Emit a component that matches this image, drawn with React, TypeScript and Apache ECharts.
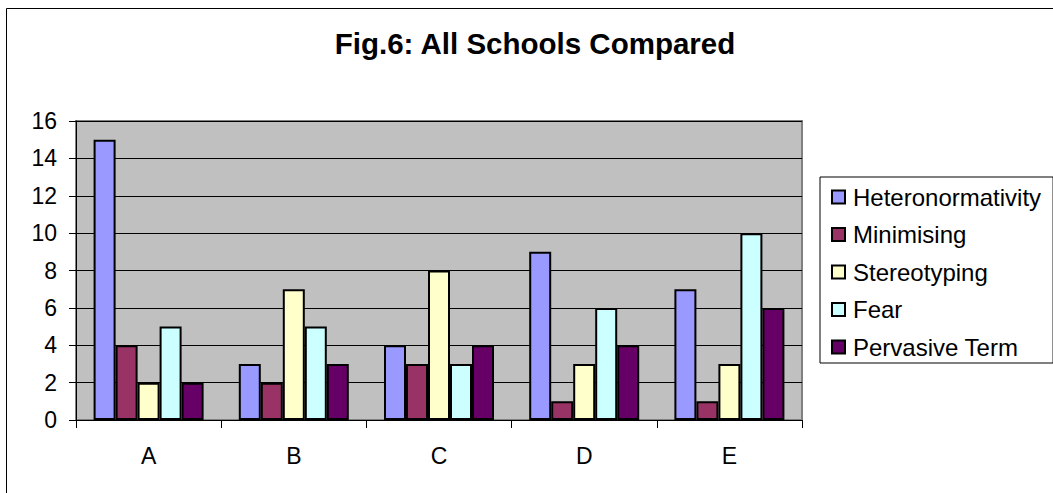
import React, { useEffect, useRef } from "react";
import * as echarts from "echarts";

const categories = ["A", "B", "C", "D", "E"];
const seriesNames = ["Heteronormativity", "Minimising", "Stereotyping", "Fear", "Pervasive Term"];
const heteronormativity = [15, 3, 4, 9, 7];
const minimising = [4, 2, 3, 1, 1];
const stereotyping = [2, 7, 8, 3, 3];
const fear = [5, 5, 3, 6, 10];
const pervasiveTerm = [2, 3, 4, 4, 6];
const seriesColors = ["#9999FF", "#993366", "#FFFFCC", "#CCFFFF", "#660066"];
const yTicks = [0, 2, 4, 6, 8, 10, 12, 14, 16];

const FONT = "'Liberation Sans', Arial, sans-serif";

export default function App() {
  const ref = useRef<HTMLDivElement>(null);
  useEffect(() => {
    if (!ref.current) return;
    const chart = echarts.init(ref.current, undefined, { renderer: "svg" });
    const values = [heteronormativity, minimising, stereotyping, fear, pervasiveTerm];
    chart.setOption({
      animation: false,
      backgroundColor: "#FFFFFF",
      textStyle: { fontFamily: FONT, color: "#000" },
      graphic: [
        {
          type: "rect",
          shape: { x: 6.5, y: 8.5, width: 2000, height: 2000 },
          style: { fill: "none", stroke: "#000", lineWidth: 1 },
          silent: true,
        },
        {
          type: "text",
          x: 535,
          y: 43,
          style: {
            text: "Fig.6: All Schools Compared",
            font: `bold 29.5px ${FONT}`,
            fill: "#000",
            textAlign: "center",
            textVerticalAlign: "middle",
          },
        },
      ],
      grid: {
        left: 76,
        top: 121,
        right: 251,
        bottom: 73,
        show: true,
        backgroundColor: "#C0C0C0",
        borderColor: "#808080",
        borderWidth: 2,
      },
      legend: {
        orient: "vertical",
        left: 820,
        top: 177,
        icon: "rect",
        itemWidth: 13,
        itemHeight: 13,
        itemGap: 11.5,
        padding: [7, 12, 3, 11],
        borderColor: "#000",
        borderWidth: 1,
        backgroundColor: "#FFFFFF",
        textStyle: { fontFamily: FONT, fontSize: 24, color: "#000", lineHeight: 26, padding: [0, 0, 0, 3] },
        data: seriesNames,
      },
      xAxis: {
        type: "category",
        data: categories,
        axisLine: { lineStyle: { color: "#000", width: 1 } },
        axisTick: { show: true, length: 8, lineStyle: { color: "#000" } },
        axisLabel: { fontFamily: FONT, fontSize: 23, color: "#000", margin: 24 },
        splitLine: { show: false },
      },
      yAxis: {
        type: "value",
        min: yTicks[0],
        max: yTicks[yTicks.length - 1],
        interval: 2,
        axisLine: { show: true, lineStyle: { color: "#000", width: 1 } },
        axisTick: { show: true, length: 7, lineStyle: { color: "#000" } },
        axisLabel: { fontFamily: FONT, fontSize: 23, color: "#000", margin: 19 },
        splitLine: { show: true, lineStyle: { color: "#000", width: 1 } },
      },
      series: seriesNames.map((name, i) => ({
        name,
        type: "bar",
        data: values[i],
        barWidth: 22,
        barGap: "0%",
        itemStyle: { color: seriesColors[i], borderColor: "#000", borderWidth: 2 },
      })),
    });
    return () => chart.dispose();
  }, []);
  return (
    <div
      ref={ref}
      style={{ position: "absolute", left: 0, top: 0, width: 1053, height: 493 }}
    />
  );
}
